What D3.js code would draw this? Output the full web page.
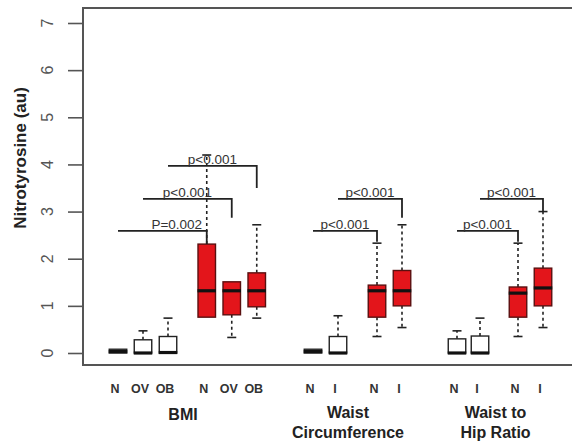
<!DOCTYPE html>
<html>
<head>
<meta charset="utf-8">
<script src="https://cdn.jsdelivr.net/npm/d3@7"></script>
<style>
  html, body { margin: 0; padding: 0; background: #fff; }
  svg { display: block; font-family: "Liberation Sans", Arial, sans-serif; }
</style>
</head>
<body>
<svg id="chart" width="572" height="441"></svg>
<script>
// Nitrotyrosine by BMI, waist circumference and waist-to-hip ratio classes
const boxLabels = ["N", "OV", "OB", "N", "OV", "OB", "N", "I", "N", "I", "N", "I", "N", "I"];
const boxKind   = ["w", "w", "w", "r", "r", "r", "w", "w", "r", "r", "w", "w", "r", "r"];
const whiskerLo = [0, 0, 0, 0.76, 0.33, 0.74, 0, 0, 0.35, 0.54, 0, 0, 0.35, 0.54];
const quart1    = [0, 0, 0, 0.76, 0.81, 0.98, 0, 0, 0.76, 1.00, 0, 0, 0.76, 1.00];
const medians   = [0.03, 0, 0.01, 1.32, 1.32, 1.32, 0.03, 0, 1.32, 1.32, 0, 0, 1.27, 1.38];
const quart3    = [0.08, 0.28, 0.35, 2.31, 1.51, 1.70, 0.08, 0.35, 1.44, 1.75, 0.30, 0.36, 1.40, 1.80];
const whiskerHi = [0.08, 0.47, 0.74, 4.20, 1.51, 2.72, 0.08, 0.79, 2.33, 2.72, 0.47, 0.74, 2.33, 3.00];

const groupTitles = [["BMI"], ["Waist", "Circumference"], ["Waist to", "Hip Ratio"]];
const yTicks = [0, 1, 2, 3, 4, 5, 6, 7];

// comparisons: from box, to box, bar level, end of drop, label
const compFrom  = [0, 1, 2, 6, 7, 10, 11];
const compTo    = [3, 4, 5, 8, 9, 12, 13];
const compLevel = [2.59, 3.27, 3.97, 2.59, 3.27, 2.59, 3.27];
const compDrop  = [2.31, 2.87, 3.50, 2.36, 2.87, 2.36, 3.00];
const compText  = ["P=0.002", "p<0.001", "p<0.001", "p<0.001", "p<0.001", "p<0.001", "p<0.001"];

// layout: slot of each box along the axis, and of each group title
const slots = [1, 2, 3, 4.55, 5.55, 6.55, 8.8, 9.8, 11.36, 12.36, 14.56, 15.48, 17, 18];
const titleSlots = [3.6, 10.2, 16.1];

const svg = d3.select("#chart");
const plot = { left: 83, top: 8, bottom: 365 };

const x = d3.scaleLinear().domain([1, 18]).range([118, 543]);
const y = d3.scaleLinear().domain([0, 7]).range([353, 23]);
const boxW = 17.5, capW = 9;
const RED = "#e3151b";

// frame (open on the right)
svg.append("path")
  .attr("d", `M600,${plot.top}H${plot.left}V${plot.bottom}H600`)
  .attr("fill", "none").attr("stroke", "#555").attr("stroke-width", 2);

// y axis: ticks from the axis generator, labels rotated alongside the axis
const yAxis = svg.append("g")
  .attr("transform", `translate(${plot.left},0)`)
  .call(d3.axisLeft(y).tickValues(yTicks).tickSize(15).tickFormat(""));
yAxis.select(".domain").remove();
yAxis.selectAll(".tick line").attr("stroke", "#555").attr("stroke-width", 1.6);

svg.append("g").selectAll("text").data(yTicks).join("text")
  .attr("transform", d => `translate(47,${y(d)}) rotate(-90)`)
  .attr("text-anchor", "middle")
  .attr("dominant-baseline", "central")
  .attr("font-size", 16).attr("fill", "#555")
  .text(d => d3.format("d")(d));

svg.append("text")
  .attr("transform", "translate(20,158) rotate(-90)")
  .attr("text-anchor", "middle").attr("dominant-baseline", "central")
  .attr("font-size", 17).attr("font-weight", "bold").attr("fill", "#222")
  .text("Nitrotyrosine (au)");

// boxes
const data = boxLabels.map((lab, i) => ({
  lab, kind: boxKind[i], lo: whiskerLo[i], q1: quart1[i], med: medians[i],
  q3: quart3[i], hi: whiskerHi[i], cx: x(slots[i])
}));

const g = svg.append("g").selectAll("g").data(data).join("g");

// whiskers
g.each(function (d) {
  const s = d3.select(this);
  if (d.hi > d.q3) {
    s.append("line").attr("x1", d.cx).attr("x2", d.cx)
      .attr("y1", y(d.q3)).attr("y2", y(d.hi))
      .attr("stroke", "#222").attr("stroke-width", 1.6).attr("stroke-dasharray", "3,3");
    s.append("line").attr("x1", d.cx - capW / 2).attr("x2", d.cx + capW / 2)
      .attr("y1", y(d.hi)).attr("y2", y(d.hi))
      .attr("stroke", "#222").attr("stroke-width", 1.6);
  }
  if (d.lo < d.q1) {
    s.append("line").attr("x1", d.cx).attr("x2", d.cx)
      .attr("y1", y(d.q1)).attr("y2", y(d.lo))
      .attr("stroke", "#222").attr("stroke-width", 1.6).attr("stroke-dasharray", "3,3");
    s.append("line").attr("x1", d.cx - capW / 2).attr("x2", d.cx + capW / 2)
      .attr("y1", y(d.lo)).attr("y2", y(d.lo))
      .attr("stroke", "#222").attr("stroke-width", 1.6);
  }
});

g.append("rect")
  .attr("x", d => d.cx - boxW / 2).attr("width", boxW)
  .attr("y", d => y(d.q3)).attr("height", d => y(d.q1) - y(d.q3))
  .attr("fill", d => d.kind === "r" ? RED : "#fff")
  .attr("stroke", d => d.kind === "r" ? "#5a1010" : "#222")
  .attr("stroke-width", 1.4);

g.append("line")
  .attr("x1", d => d.cx - boxW / 2 - 0.5).attr("x2", d => d.cx + boxW / 2 + 0.5)
  .attr("y1", d => y(d.med)).attr("y2", d => y(d.med))
  .attr("stroke", "#111").attr("stroke-width", 3.2);

// category labels
svg.append("g").selectAll("text").data(data).join("text")
  .attr("x", d => d.cx - 3).attr("y", 393)
  .attr("text-anchor", "middle")
  .attr("font-size", 12.5).attr("font-weight", "bold").attr("fill", "#333")
  .text(d => d.lab);

// group titles
groupTitles.forEach((lines, gi) => {
  const t = svg.append("text")
    .attr("x", x(titleSlots[gi]))
    .attr("text-anchor", "middle")
    .attr("font-size", 16).attr("font-weight", "bold").attr("fill", "#222");
  if (lines.length === 1) {
    t.attr("y", 420).text(lines[0]);
  } else {
    t.attr("y", 418);
    lines.forEach((ln, li) => t.append("tspan")
      .attr("x", x(titleSlots[gi])).attr("dy", li === 0 ? 0 : 20).text(ln));
  }
});

// comparison brackets
const comps = compText.map((txt, i) => ({
  txt, x1: x(slots[compFrom[i]]), x2: x(slots[compTo[i]]),
  yl: y(compLevel[i]), yd: y(compDrop[i])
}));
const cg = svg.append("g").selectAll("g").data(comps).join("g");
cg.append("path")
  .attr("d", d => `M${d.x1},${d.yl}H${d.x2}V${d.yd}`)
  .attr("fill", "none").attr("stroke", "#222").attr("stroke-width", 1.8);
cg.append("text")
  .attr("x", (d, i) => i === 0 ? d.x2 - 30 : (d.x1 + d.x2) / 2)
  .attr("y", d => d.yl - 2)
  .attr("text-anchor", "middle")
  .attr("font-size", 13.5).attr("fill", "#333")
  .text(d => d.txt);
</script>
</body>
</html>
